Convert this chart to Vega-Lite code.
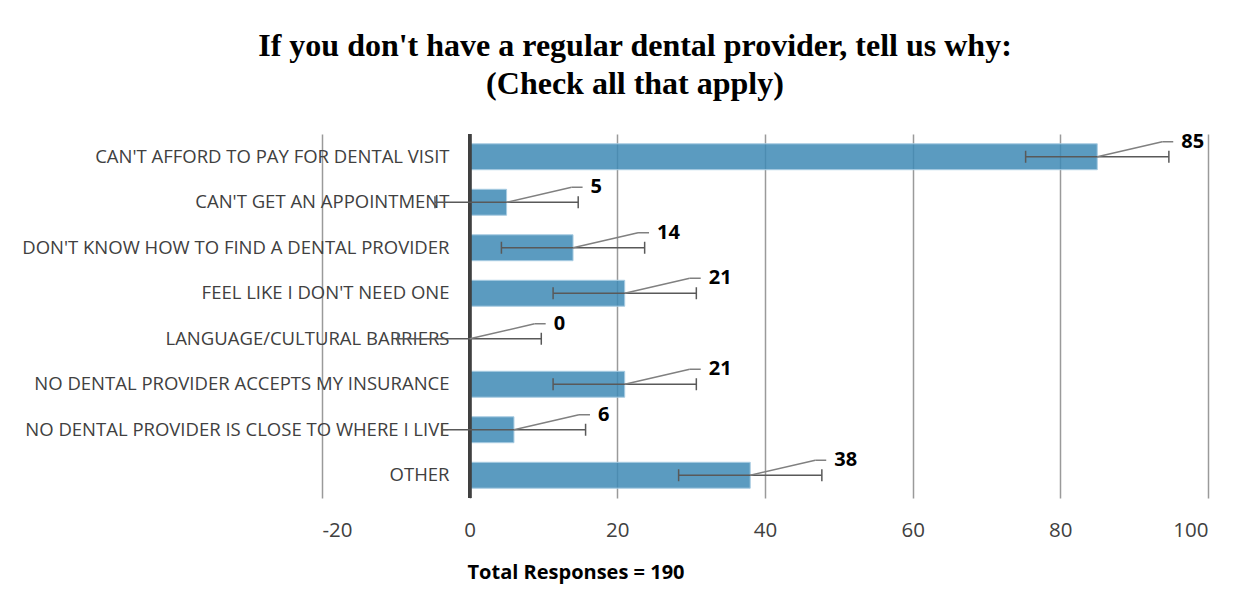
{
  "$schema": "https://vega.github.io/schema/vega-lite/v6.json",
  "autosize": {"type": "none"},
  "padding": {"left": 322, "top": 134, "right": 44, "bottom": 109},
  "width": 886,
  "height": 364,
  "background": "white",
  "view": {"stroke": null},
  "title": {
    "text": ["If you don't have a regular dental provider, tell us why:", "(Check all that apply)"],
    "font": "Liberation Serif",
    "fontSize": 32,
    "fontWeight": "bold",
    "color": "black",
    "lineHeight": 38,
    "anchor": "middle",
    "frame": "group",
    "dx": -130,
    "offset": 31
  },
  "data": {
    "values": [
      {"reason": "CAN'T AFFORD TO PAY FOR DENTAL VISIT", "count": 85, "lo": 75.3, "hi": 94.7},
      {"reason": "CAN'T GET AN APPOINTMENT", "count": 5, "lo": -4.7, "hi": 14.7},
      {"reason": "DON'T KNOW HOW TO FIND A DENTAL PROVIDER", "count": 14, "lo": 4.3, "hi": 23.7},
      {"reason": "FEEL LIKE I DON'T NEED ONE", "count": 21, "lo": 11.3, "hi": 30.7},
      {"reason": "LANGUAGE/CULTURAL BARRIERS", "count": 0, "lo": -9.7, "hi": 9.7},
      {"reason": "NO DENTAL PROVIDER ACCEPTS MY INSURANCE", "count": 21, "lo": 11.3, "hi": 30.7},
      {"reason": "NO DENTAL PROVIDER IS CLOSE TO WHERE I LIVE", "count": 6, "lo": -3.7, "hi": 15.7},
      {"reason": "OTHER", "count": 38, "lo": 28.3, "hi": 47.7}
    ]
  },
  "encoding": {
    "y": {
      "field": "reason",
      "type": "nominal",
      "sort": null,
      "scale": {"paddingInner": 0.43, "paddingOuter": 0.215},
      "axis": {
        "title": null,
        "domain": false,
        "ticks": false,
        "offset": -148,
        "labelFont": "Open Sans",
        "labelFontSize": 18.5,
        "labelColor": "#404040",
        "labelPadding": 21,
        "labelLimit": 600
      }
    }
  },
  "layer": [
    {
      "mark": {"type": "bar", "fill": "#3e8ab5", "fillOpacity": 0.85, "stroke": "#a9cce2", "strokeWidth": 1},
      "encoding": {
        "x": {
          "field": "count",
          "type": "quantitative",
          "scale": {"domain": [-20, 100], "nice": false, "zero": false},
          "axis": {
            "values": [-20, 0, 20, 40, 60, 80, 100],
            "labelExpr": "'' + datum.value",
            "grid": true,
            "gridColor": "#9a9a9a",
            "gridWidth": 1.5,
            "domain": false,
            "ticks": false,
            "labelFont": "Open Sans",
            "labelFontSize": 20.5,
            "labelColor": "#404040",
            "labelPadding": 22,
            "title": "Total Responses = 190",
            "titleFont": "Open Sans",
            "titleFontSize": 20,
            "titleFontWeight": "bold",
            "titleColor": "black",
            "titleAnchor": "start",
            "titleAlign": "left",
            "titleX": 145,
            "titleY": 64
          }
        }
      }
    },
    {
      "mark": {"type": "rule", "stroke": "#404040", "strokeWidth": 3},
      "encoding": {"x": {"datum": 0, "type": "quantitative"}, "y": null}
    },
    {
      "mark": {"type": "rule", "stroke": "#595959", "strokeWidth": 1.5},
      "encoding": {
        "x": {"field": "lo", "type": "quantitative"},
        "x2": {"field": "hi"}
      }
    },
    {
      "mark": {"type": "tick", "orient": "vertical", "color": "#595959", "size": 12, "thickness": 1.5, "opacity": 1},
      "encoding": {"x": {"field": "lo", "type": "quantitative"}}
    },
    {
      "mark": {"type": "tick", "orient": "vertical", "color": "#595959", "size": 12, "thickness": 1.5, "opacity": 1},
      "encoding": {"x": {"field": "hi", "type": "quantitative"}}
    },
    {
      "mark": {"type": "rule", "stroke": "#808080", "strokeWidth": 1.5, "x2Offset": 65, "y2Offset": -15},
      "encoding": {
        "x": {"field": "count", "type": "quantitative"},
        "x2": {"field": "count"},
        "y2": {"field": "reason"}
      }
    },
    {
      "mark": {"type": "rule", "stroke": "#808080", "strokeWidth": 1.5, "xOffset": 65, "x2Offset": 76, "yOffset": -15},
      "encoding": {
        "x": {"field": "count", "type": "quantitative"},
        "x2": {"field": "count"}
      }
    },
    {
      "mark": {"type": "text", "align": "left", "baseline": "middle", "dx": 84, "dy": -15, "font": "Open Sans", "fontSize": 20, "fontWeight": "bold", "color": "black"},
      "encoding": {
        "x": {"field": "count", "type": "quantitative"},
        "text": {"field": "count", "type": "quantitative"}
      }
    }
  ]
}
